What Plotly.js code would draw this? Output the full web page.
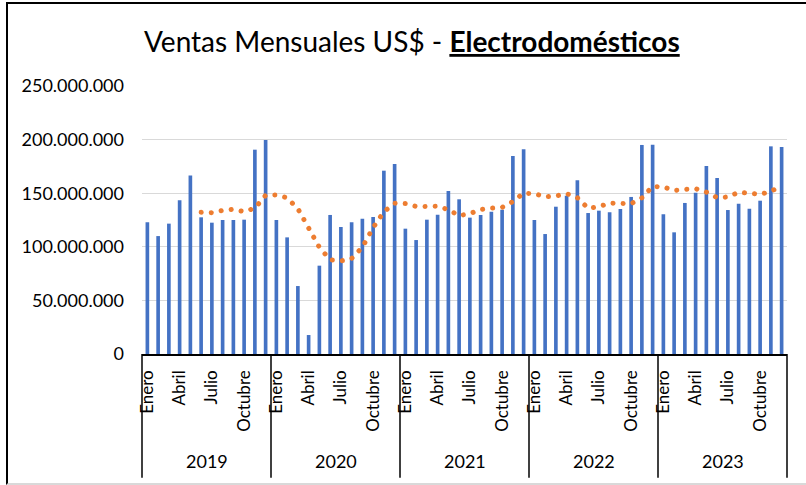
<!DOCTYPE html>
<html>
<head>
<meta charset="utf-8">
<script src="https://cdn.plot.ly/plotly-3.0.1.min.js"></script>
<style>
  html, body { margin: 0; padding: 0; background: #fff; }
  #wrap { position: relative; width: 806px; height: 485px; overflow: hidden; }
  #chart { position: absolute; left: 0; top: 0; width: 806px; height: 485px; }
  #frame { position: absolute; left: 6px; top: 2px; width: 820px; height: 479px;
           border-left: 2px solid #000; border-top: 2px solid #000; border-bottom: 2px solid #d9d9d9;
           pointer-events: none; }
  .scatterlayer .js-line { stroke-linecap: round; }
</style>
</head>
<body>
<div id="wrap">
  <div id="chart"></div>
  <div id="frame"></div>
</div>
<script>
// ---- Data ----
const years = ['2019', '2020', '2021', '2022', '2023'];
const months = ['Enero', 'Febrero', 'Marzo', 'Abril', 'Mayo', 'Junio', 'Julio', 'Agosto', 'Septiembre', 'Octubre', 'Noviembre', 'Diciembre'];
const shownMonths = ['Enero', 'Abril', 'Julio', 'Octubre'];

const ventas2019 = [122900000, 110000000, 121600000, 143400000, 166400000, 127500000, 122500000, 125000000, 125000000, 125300000, 190600000, 199600000];
const ventas2020 = [125000000, 108800000, 63400000, 17700000, 82400000, 129700000, 118500000, 122800000, 126200000, 127800000, 171000000, 177200000];
const ventas2021 = [116900000, 106300000, 125300000, 130000000, 152000000, 144300000, 127200000, 129700000, 132800000, 134600000, 184700000, 190900000];
const ventas2022 = [125000000, 111900000, 137400000, 147700000, 162000000, 131500000, 133700000, 132200000, 135300000, 146500000, 195000000, 195200000];
const ventas2023 = [130300000, 113500000, 140900000, 150500000, 175400000, 164200000, 134300000, 140200000, 135600000, 143000000, 193700000, 193100000];

// Trend line (6-month moving average as drawn in the reference)
const tendencia2019 = [null, null, null, null, null, 132200000, 131800000, 134000000, 135000000, 132800000, 136000000, 148000000];
const tendencia2020 = [148400000, 145700000, 135500000, 117500000, 99500000, 87800000, 86800000, 89100000, 99600000, 117900000, 132700000, 140600000];
const tendencia2021 = [140300000, 137600000, 137400000, 137800000, 134600000, 129100000, 130900000, 134800000, 136000000, 136800000, 142200000, 150000000];
const tendencia2022 = [149600000, 146700000, 147400000, 149600000, 145800000, 135900000, 137400000, 140800000, 140400000, 140200000, 145700000, 156300000];
const tendencia2023 = [155800000, 152600000, 153600000, 154200000, 151000000, 145800000, 146500000, 150900000, 150000000, 148800000, 151800000, 156700000];

const yTicks = [0, 50000000, 100000000, 150000000, 200000000, 250000000];

// ---- Build series ----
const ventasPorAnio = [ventas2019, ventas2020, ventas2021, ventas2022, ventas2023];
const tendPorAnio = [tendencia2019, tendencia2020, tendencia2021, tendencia2022, tendencia2023];
const cats = [], ventas = [], tendencia = [], tickVals = [], tickText = [];
years.forEach((yr, yi) => {
  months.forEach((m, mi) => {
    const c = m + ' ' + yr;
    cats.push(c);
    ventas.push(ventasPorAnio[yi][mi]);
    tendencia.push(tendPorAnio[yi][mi]);
    if (shownMonths.includes(m)) { tickVals.push(c); tickText.push(m); }
  });
});

const FONT = 'Lato, "Open Sans", sans-serif';

const traces = [
  {
    type: 'bar', x: cats, y: ventas, name: 'Ventas',
    marker: { color: '#4472C4' }, hoverinfo: 'x+y'
  },
  {
    type: 'scatter', mode: 'lines', x: cats, y: tendencia, name: 'Tendencia',
    line: { color: '#ED7D31', width: 5, dash: '0.1px,10px' },
    connectgaps: false, hoverinfo: 'skip'
  }
];

// Year dividers and year labels
const shapes = [];
for (let k = 0; k <= years.length; k++) {
  shapes.push({
    type: 'line', xref: 'paper', yref: 'paper',
    x0: k / years.length, x1: k / years.length, y0: 0, y1: -0.462,
    line: { color: '#000', width: 1.5 }
  });
}
const annotations = years.map((yr, yi) => ({
  text: yr, xref: 'x', yref: 'paper',
  x: yi * months.length + (months.length - 1) / 2, y: -0.40,
  showarrow: false, xanchor: 'center', yanchor: 'middle',
  font: { family: FONT, size: 18, color: '#000' }
}));

const layout = {
  width: 806, height: 485,
  margin: { l: 142, r: 19, t: 86, b: 131, pad: 0 },
  paper_bgcolor: '#fff', plot_bgcolor: '#fff',
  separators: ',.',
  showlegend: false,
  bargap: 0.66,
  title: {
    text: 'Ventas Mensuales US$ - <b><u>Electrodomésticos</u></b>',
    font: { family: FONT, size: 28, color: '#000' },
    x: 0.511, xanchor: 'center', xref: 'container',
    y: 0.913, yref: 'container', yanchor: 'middle'
  },
  xaxis: {
    type: 'category',
    tickvals: tickVals, ticktext: tickText,
    tickangle: -90,
    tickfont: { family: FONT, size: 17, color: '#000' },
    ticks: '', showgrid: false, zeroline: false,
    showline: true, linecolor: '#000', linewidth: 1.5,
    ticklabelstandoff: 8,
    range: [-0.5, cats.length - 0.5]
  },
  yaxis: {
    range: [0, 250000000],
    tickvals: yTicks, tickformat: ',d',
    tickfont: { family: FONT, size: 18, color: '#000' },
    showgrid: true, gridcolor: '#d9d9d9', gridwidth: 1.3,
    zeroline: false, showline: false, ticks: '',
    ticklabelstandoff: 17
  },
  shapes: shapes,
  annotations: annotations
};

Plotly.newPlot('chart', traces, layout, { displayModeBar: false, staticPlot: true });
</script>
</body>
</html>
